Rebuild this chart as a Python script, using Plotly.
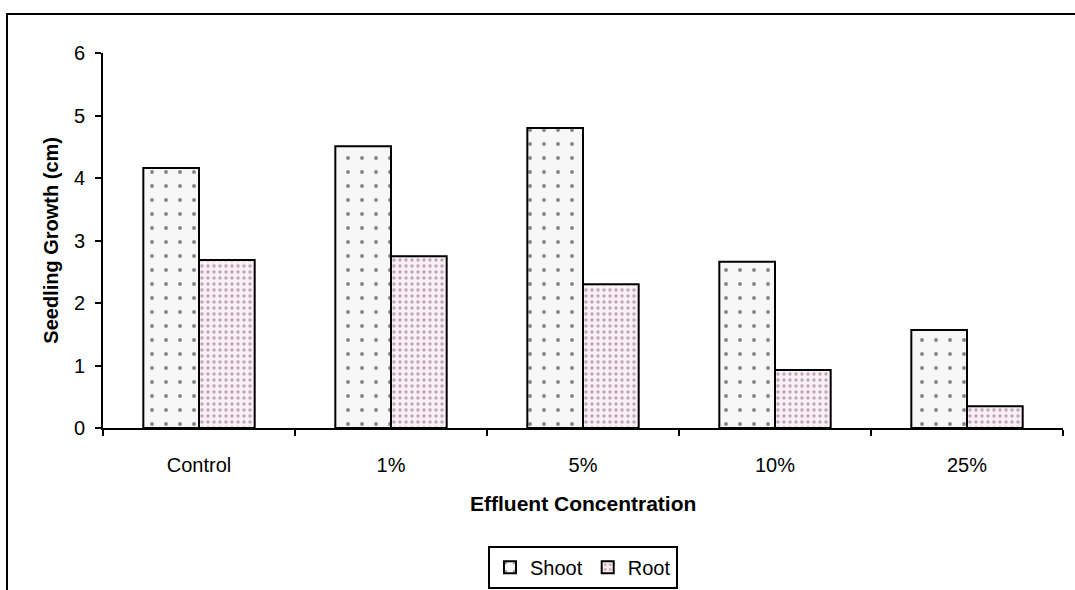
import plotly.graph_objects as go

categories = ["Control", "1%", "5%", "10%", "25%"]
shoot = [4.16, 4.51, 4.80, 2.66, 1.57]
root = [2.69, 2.75, 2.30, 0.93, 0.35]
y_ticks = [0, 1, 2, 3, 4, 5, 6]

FONT = "Liberation Sans, Arial, sans-serif"
FS = 20

fig = go.Figure()
fig.add_trace(go.Bar(
    x=categories, y=shoot, name="Shoot",
    marker=dict(color="#f7f7f7", line=dict(color="black", width=2),
                pattern=dict(shape=".", fgcolor="#111111", bgcolor="#f7f7f7",
                             size=14, solidity=0.06, fillmode="overlay")),
))
fig.add_trace(go.Bar(
    x=categories, y=root, name="Root",
    marker=dict(color="#fcf0f7", line=dict(color="black", width=2),
                pattern=dict(shape=".", fgcolor="#7a5f70", bgcolor="#fcf0f7",
                             size=6, solidity=0.25, fillmode="overlay")),
))

fig.update_layout(
    width=1075, height=590,
    margin=dict(l=103, r=12, t=53, b=162, autoexpand=False),
    paper_bgcolor="white", plot_bgcolor="white",
    barmode="group", bargap=0.42, bargroupgap=0,
    font=dict(family=FONT, size=FS, color="black"),
    showlegend=True,
    legend=dict(orientation="h", x=0.5, y=-0.371, xanchor="center", yanchor="middle",
                bordercolor="black", borderwidth=2, bgcolor="white",
                font=dict(family=FONT, size=FS), itemwidth=30, tracegroupgap=0),
    xaxis=dict(
        type="category", showline=True, linecolor="black", linewidth=2,
        ticks="outside", ticklen=6, tickwidth=2, tickcolor="black",
        tickson="boundaries", showgrid=False, ticklabelstandoff=18,
        tickfont=dict(family=FONT, size=FS), automargin=False,
    ),
    yaxis=dict(
        range=[0, 6], tickvals=y_ticks, showline=True, linecolor="black", linewidth=2,
        ticks="outside", ticklen=6, tickwidth=2, tickcolor="black",
        showgrid=False, zeroline=False, ticklabelstandoff=6,
        tickfont=dict(family=FONT, size=FS), automargin=False,
    ),
    annotations=[
        dict(text="<b>Seedling Growth (cm)</b>", xref="paper", yref="paper",
             x=-0.055, y=0.5, textangle=-90, showarrow=False,
             xanchor="center", yanchor="middle", font=dict(family=FONT, size=FS)),
        dict(text="<b>Effluent Concentration</b>", xref="paper", yref="paper",
             x=0.5, y=(428 - 503) / 375, showarrow=False,
             xanchor="center", yanchor="middle", font=dict(family=FONT, size=21)),
    ],
    shapes=[
        dict(type="rect", xref="paper", yref="paper",
             x0=(7 - 103) / 960, x1=1.2, y0=-0.6, y1=(428 - 14) / 375,
             line=dict(color="black", width=2), fillcolor="rgba(0,0,0,0)", layer="below"),
    ],
)

fig.write_html("out.html")
